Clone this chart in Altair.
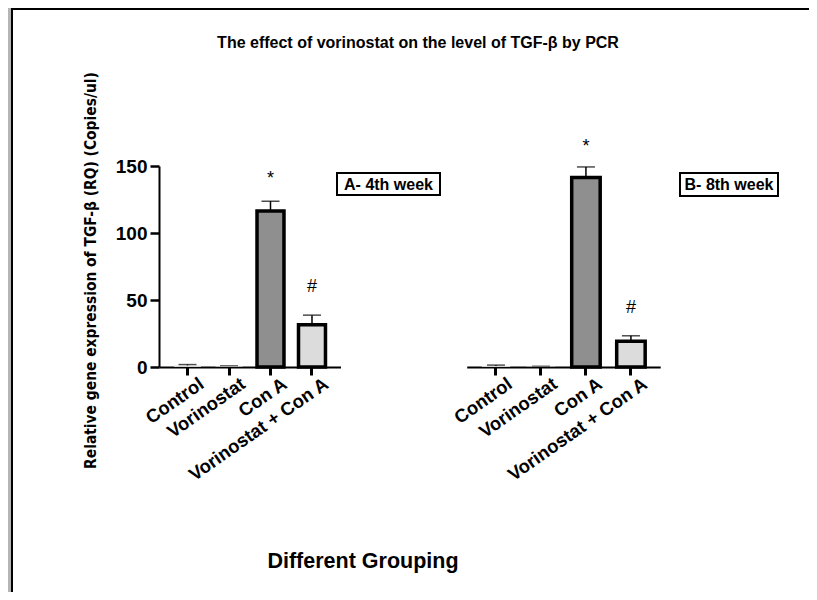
import altair as alt
import pandas as pd

groups = ["Control", "Vorinostat", "Con A", "Vorinostat + Con A"]

week4_mean = [1.0, 0.5, 116.5, 31.5]
week4_sem = [0.8, 0.3, 7.2, 7.2]
week4_mark = ["", "", "*", "#"]
week4_mark_level = [0, 0, 140, 60]

week8_mean = [0.8, 0.3, 141.5, 19.2]
week8_sem = [0.6, 0.2, 7.8, 4.1]
week8_mark = ["", "", "*", "#"]
week8_mark_level = [0, 0, 164, 44]

bar_colors = ["#d6d6d6", "#d6d6d6", "#8f8f8f", "#dcdcdc"]

FONT = "Liberation Sans"

y_axis = alt.Axis(
    values=[0, 50, 100, 150],
    title="Relative gene expression of TGF-\u03b2 (RQ) (Copies/ul)",
    titleFont="Liberation Sans Narrow, DejaVu Sans Condensed, Liberation Sans",
    titleFontSize=15.4,
    titleFontWeight="bold",
    titleColor="black",
    titleX=-69,
    titleY=104,
    titleAngle=270,
    titleAlign="center",
    titleBaseline="middle",
    labelFont=FONT,
    labelFontSize=19,
    labelFontWeight="bold",
    labelColor="black",
    labelPadding=3,
    domainColor="black",
    domainWidth=2,
    tickColor="black",
    tickWidth=2.5,
    tickSize=9,
    grid=False,
)

x_axis = alt.Axis(
    orient="bottom",
    title=None,
    labelAngle=325,
    labelFont=FONT,
    labelFontSize=18.5,
    labelFontWeight="bold",
    labelColor="black",
    labelPadding=-1,
    labelOffset=9,
    domainColor="black",
    domainWidth=2,
    tickColor="black",
    tickWidth=3,
    tickSize=8,
    grid=False,
)

y_scale = alt.Scale(domain=[0, 150], nice=False, zero=True)


def panel(mean, sem, marks, levels, rng, p_in, p_out):
    df = pd.DataFrame({
        "group": groups,
        "mean": mean,
        "sem": sem,
        "mark": marks,
        "level": levels,
    })
    df["top"] = df["mean"] + df["sem"]
    x = alt.X(
        "group:N",
        sort=groups,
        scale=alt.Scale(domain=groups, range=rng, paddingInner=p_in, paddingOuter=p_out),
        axis=x_axis,
    )
    y = alt.Y("mean:Q", scale=y_scale, axis=y_axis)
    base = alt.Chart(df)
    rules = base.mark_rule(color="black", strokeWidth=1.5).encode(
        x=x, y=y, y2="top:Q"
    )
    caps = base.mark_tick(color="black", thickness=1.5, size=18).encode(
        x=x, y=alt.Y("top:Q", scale=y_scale, axis=y_axis)
    )
    bars = base.mark_bar(stroke="black").encode(
        x=x,
        y=y,
        color=alt.Color("group:N", scale=alt.Scale(domain=groups, range=bar_colors), legend=None),
        strokeWidth=alt.condition("datum.mean > 5", alt.value(3.5), alt.value(0)),
    )
    texts = base.mark_text(font=FONT, fontSize=18, color="black", baseline="middle").encode(
        x=x,
        y=alt.Y("level:Q", scale=y_scale, axis=y_axis),
        text="mark:N",
    ).transform_filter("datum.mark != ''")
    return alt.layer(rules, caps, bars, texts)


left = panel(week4_mean, week4_sem, week4_mark, week4_mark_level, [0, 181.5], 0.35, 0.362)
right = panel(week8_mean, week8_sem, week8_mark, week8_mark_level, [307.7, 501.2], 0.367, 0.334)

one = pd.DataFrame({"k": [0]})
deco = alt.Chart(one)

shadow = deco.mark_rect(filled=False, stroke="#b5b5b5", strokeWidth=3).encode(
    x=alt.value(-149.5), x2=alt.value(720), y=alt.value(-159.5), y2=alt.value(520)
)
frame = deco.mark_rect(filled=False, stroke="black", strokeWidth=2).encode(
    x=alt.value(-147), x2=alt.value(720), y=alt.value(-157), y2=alt.value(520)
)
box_a = deco.mark_rect(fill="white", stroke="black", strokeWidth=2).encode(
    x=alt.value(178), x2=alt.value(281), y=alt.value(7), y2=alt.value(29)
)
box_b = deco.mark_rect(fill="white", stroke="black", strokeWidth=2).encode(
    x=alt.value(521), x2=alt.value(619), y=alt.value(7), y2=alt.value(30)
)
txt_a = deco.mark_text(font=FONT, fontSize=16, fontWeight="bold", color="black",
                       align="center", baseline="middle").encode(
    x=alt.value(229.5), y=alt.value(18.5), text=alt.value("A- 4th week")
)
txt_b = deco.mark_text(font=FONT, fontSize=16, fontWeight="bold", color="black",
                       align="center", baseline="middle").encode(
    x=alt.value(570), y=alt.value(19), text=alt.value("B- 8th week")
)
title = deco.mark_text(font=FONT, fontSize=16, fontWeight="bold", color="black",
                       align="center", baseline="middle").encode(
    x=alt.value(259), y=alt.value(-123),
    text=alt.value("The effect of vorinostat on the level of TGF-\u03b2 by PCR"),
)
xlabel = deco.mark_text(font=FONT, fontSize=21.5, fontWeight="bold", color="black",
                        align="center", baseline="middle").encode(
    x=alt.value(204), y=alt.value(396), text=alt.value("Different Grouping")
)

chart = alt.layer(
    shadow, frame, left, right, box_a, box_b, txt_a, txt_b, title, xlabel
).resolve_scale(
    x="independent"
).resolve_axis(
    x="independent"
).properties(
    width=650,
    height=201,
    padding={"left": 151, "top": 158, "right": 0, "bottom": 225},
    autosize=alt.AutoSizeParams(type="none"),
    background="white",
).configure_view(
    stroke=None
)

chart.save("out.html", embed_options={"renderer": "svg", "actions": False})
